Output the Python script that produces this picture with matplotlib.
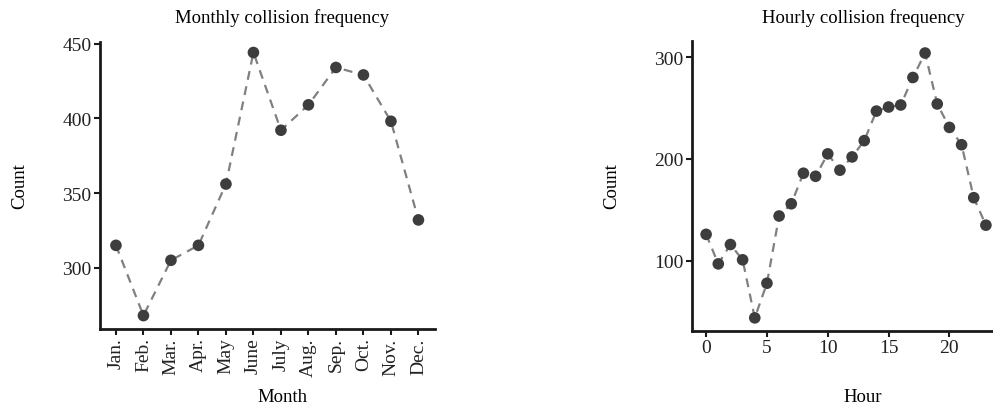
import matplotlib
matplotlib.use('Agg')
import matplotlib.pyplot as plt

# values
months = ['Jan.', 'Feb.', 'Mar.', 'Apr.', 'May', 'June', 'July', 'Aug.',
          'Sep.', 'Oct.', 'Nov.', 'Dec.']
month_counts = [315, 268, 305, 315, 356, 444, 392, 409, 434, 429, 398, 332]

hours = list(range(24))
hour_counts = [126, 97, 116, 101, 44, 78, 144, 156, 186, 183, 205, 189,
               202, 218, 247, 251, 253, 280, 304, 254, 231, 214, 162, 135]

plt.rcParams['font.family'] = ['Liberation Serif', 'DejaVu Serif']

fig = plt.figure(figsize=(9.93, 4.10), dpi=100)

ax1 = fig.add_axes([0.1007, 0.195, 0.3373, 0.70])
ax2 = fig.add_axes([0.697, 0.190, 0.313, 0.708])

line_style = dict(color='#808080', linestyle='--', linewidth=1.6,
                  dashes=(4, 3), zorder=1)
dot_style = dict(color='#3d3d3d', s=70, zorder=2, edgecolors='none')

# monthly
xm = list(range(len(months)))
ax1.plot(xm, month_counts, **line_style)
ax1.scatter(xm, month_counts, **dot_style)
ax1.set_xlim(-0.58, 11.6)
ax1.set_ylim(259, 451)
ax1.set_yticks([300, 350, 400, 450])
ax1.set_xticks(xm)
ax1.set_xticklabels(months, rotation=90)

# hourly
ax2.plot(hours, hour_counts, **line_style)
ax2.scatter(hours, hour_counts, **dot_style)
ax2.set_xlim(-1.15, 24.4)
ax2.set_ylim(31, 316)
ax2.set_yticks([100, 200, 300])
ax2.set_xticks([0, 5, 10, 15, 20])

for ax in (ax1, ax2):
    for s in ('top', 'right'):
        ax.spines[s].set_visible(False)
    for s in ('left', 'bottom'):
        ax.spines[s].set_linewidth(2)
        ax.spines[s].set_color('#1a1a1a')
    ax.tick_params(length=4, width=1.5, labelsize=14, colors='#1a1a1a',
                   labelcolor='#222222', pad=2)

fig.text(0.284, 0.955, 'Monthly collision frequency', ha='center', va='center', fontsize=13.5)
fig.text(0.869, 0.955, 'Hourly collision frequency', ha='center', va='center', fontsize=13.5)
fig.text(0.284, 0.030, 'Month', ha='center', va='center', fontsize=13.5)
fig.text(0.869, 0.030, 'Hour', ha='center', va='center', fontsize=13.5)
fig.text(0.020, 0.545, 'Count', ha='center', va='center', rotation=90, fontsize=13.5)
fig.text(0.616, 0.545, 'Count', ha='center', va='center', rotation=90, fontsize=13.5)

fig.savefig('out.png', dpi=100, facecolor='white')
